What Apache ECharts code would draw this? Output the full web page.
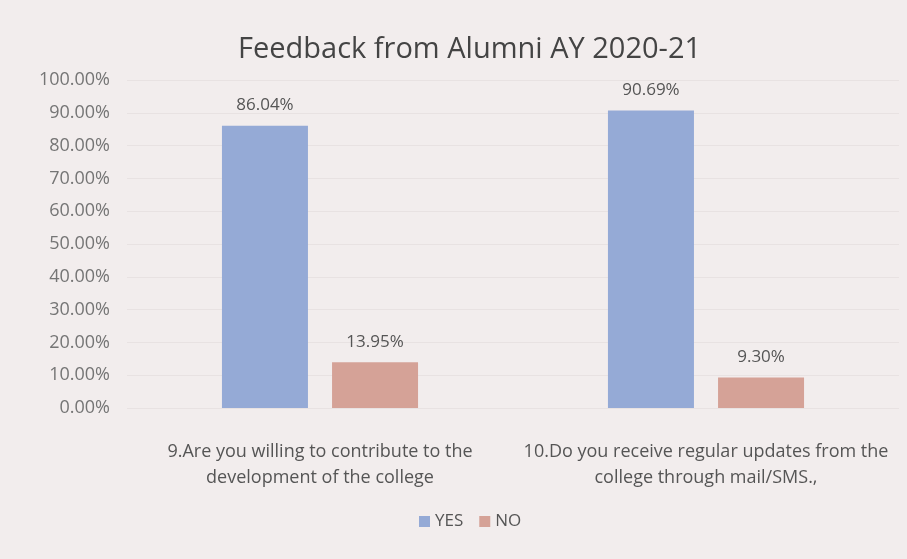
<!DOCTYPE html>
<html><head><meta charset="utf-8">
<script src="https://cdn.jsdelivr.net/npm/echarts@6/dist/echarts.min.js"></script>
<style>html,body{margin:0;padding:0;background:#f2eded;}#c{width:907px;height:559px;}</style>
</head><body><div id="c"></div>
<script>
const categories = ["9.Are you willing to contribute to the\ndevelopment of the college", "10.Do you receive regular updates from the\ncollege through mail/SMS.,"];
const yesValues = [86.04, 90.69];
const noValues = [13.95, 9.30];
const seriesNames = ["YES", "NO"];
const titleText = "Feedback from Alumni AY 2020-21";

const chart = echarts.init(document.getElementById('c'));
const font = "Open Sans";
chart.setOption({
  backgroundColor: '#f2eded',
  animation: false,
  title: { text: titleText, left: 233, top: 30, textStyle: { fontFamily: font, fontSize: 29, fontWeight: 'normal', color: '#444' } },
  grid: { left: 127, right: 8, top: 80, bottom: 151 },
  legend: { data: seriesNames, bottom: 24, left: 414, itemWidth: 11, itemHeight: 11, itemGap: 16, icon: 'rect',
    textStyle: { fontFamily: font, fontSize: 17, color: '#555' } },
  xAxis: { type: 'category', data: categories,
    axisLine: { show: false }, axisTick: { show: false },
    axisLabel: { fontFamily: font, fontSize: 18, color: '#555', lineHeight: 26, margin: 31, interval: 0 } },
  yAxis: { type: 'value', min: 0, max: 100, interval: 10,
    axisLine: { show: false }, axisTick: { show: false },
    splitLine: { lineStyle: { color: '#e8e2e2', width: 1 } },
    axisLabel: { fontFamily: font, fontSize: 18, color: '#757575', margin: 17, formatter: v => v.toFixed(2) + '%' } },
  series: [
    { name: seriesNames[0], type: 'bar', data: yesValues, barWidth: 86, barGap: '28%',
      itemStyle: { color: '#95aad6' },
      label: { show: true, position: 'top', distance: 12, fontFamily: font, fontSize: 17, color: '#555', formatter: p => p.value.toFixed(2) + '%' } },
    { name: seriesNames[1], type: 'bar', data: noValues, barWidth: 86,
      itemStyle: { color: '#d5a297' },
      label: { show: true, position: 'top', distance: 12, fontFamily: font, fontSize: 17, color: '#555', formatter: p => p.value.toFixed(2) + '%' } }
  ]
});
</script></body></html>
